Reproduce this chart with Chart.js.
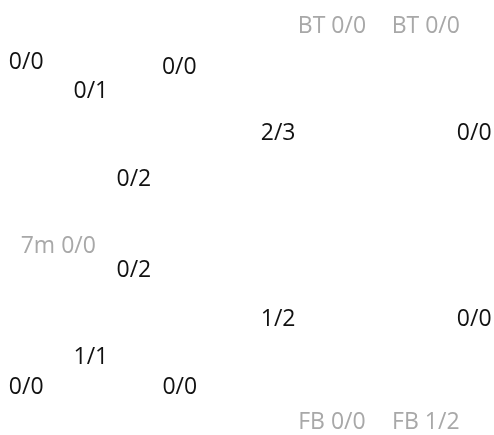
<!DOCTYPE html>
<html>
<head>
<meta charset="utf-8">
<script src="https://cdn.jsdelivr.net/npm/chart.js@4/dist/chart.umd.min.js"></script>
<style>
  html, body { margin: 0; padding: 0; background: #ffffff; }
  #wrap { width: 494px; height: 435px; position: relative; }
</style>
</head>
<body>
<div id="wrap"><canvas id="c"></canvas></div>
<script>
// Shot zones: prefix (special situation), goals made, attempts, zone position (percent of court)
const zonePrefix = ["BT", "BT", "", "", "", "", "", "", "7m", "", "", "", "", "", "", "FB", "FB"];
const goalsMade  = [0, 0, 0, 0, 0, 2, 0, 0, 0, 0, 1, 0, 1, 0, 0, 0, 1];
const attempts   = [0, 0, 0, 1, 0, 3, 0, 2, 0, 2, 2, 0, 1, 0, 0, 0, 2];
const zoneX      = [67.2, 86.2, 5.3, 18.4, 36.3, 56.3, 96.0, 27.1, 11.8, 27.1, 56.3, 96.0, 18.4, 5.3, 36.4, 67.2, 86.2];
const zoneY      = [5.7, 5.7, 14.0, 20.5, 15.1, 30.3, 30.3, 40.9, 56.3, 61.7, 72.9, 72.9, 81.8, 88.7, 88.7, 96.6, 96.6];

const labels = zonePrefix.map((p, i) => (p ? p + " " : "") + goalsMade[i] + "/" + attempts[i]);
const points = zoneX.map((x, i) => ({ x: x, y: zoneY[i] }));

const textLabels = {
  id: "textLabels",
  afterDatasetsDraw(chart) {
    const ctx = chart.ctx;
    const meta = chart.getDatasetMeta(0);
    ctx.save();
    ctx.font = '23px "Open Sans"';
    ctx.textAlign = "center";
    ctx.textBaseline = "alphabetic";
    const asc = ctx.measureText("0").actualBoundingBoxAscent;
    meta.data.forEach((el, i) => {
      ctx.fillStyle = zonePrefix[i] ? "#a8a8a8" : "#111111";
      ctx.fillText(labels[i], el.x, el.y + asc / 2);
    });
    ctx.restore();
  }
};

new Chart(document.getElementById("c"), {
  type: "scatter",
  data: {
    datasets: [{
      data: points,
      pointRadius: 0,
      pointHoverRadius: 0,
      backgroundColor: "rgba(0,0,0,0)",
      borderColor: "rgba(0,0,0,0)"
    }]
  },
  options: {
    responsive: true,
    maintainAspectRatio: false,
    animation: false,
    layout: { padding: 0 },
    plugins: { legend: { display: false }, tooltip: { enabled: false } },
    scales: {
      x: { type: "linear", min: 0, max: 100, display: false },
      y: { type: "linear", min: 0, max: 100, reverse: true, display: false }
    }
  },
  plugins: [textLabels]
});
</script>
</body>
</html>
